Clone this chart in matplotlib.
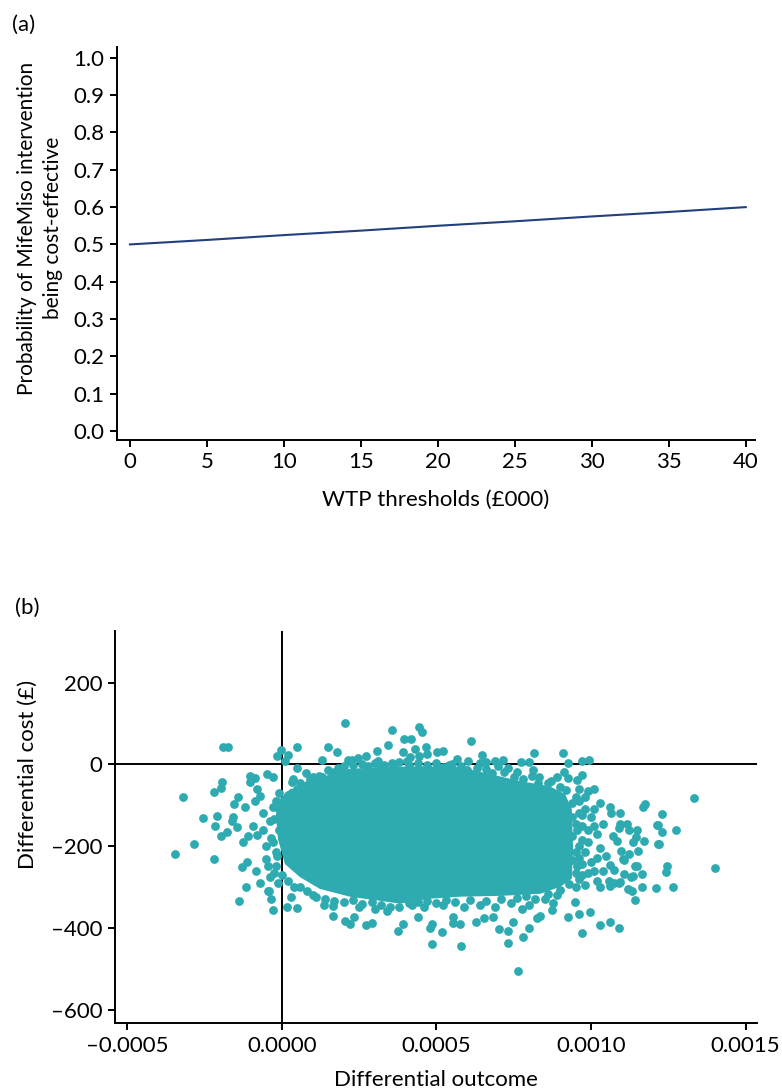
import matplotlib
matplotlib.use("Agg")
import matplotlib.pyplot as plt
from matplotlib.ticker import FuncFormatter

plt.rcParams['font.family'] = ['Lato', 'DejaVu Sans']
plt.rcParams['font.size'] = 16

# (a) cost-effectiveness acceptability curve
wtp_thresholds = [0, 5, 10, 15, 20, 25, 30, 35, 40]
prob_cost_effective = [0.500, 0.512, 0.525, 0.537, 0.550, 0.562, 0.575, 0.587, 0.600]

# (b) cost-effectiveness plane
# the dense centre of the cloud, read off as an outline (differential outcome, differential cost)
core_outline = [
    (-0.0000065, -85), (0.000026, -61), (0.000091, -49), (0.000155, -24),
    (0.000204, -12), (0.000317, -7), (0.000447, -5), (0.000576, -7),
    (0.000673, -24), (0.00077, -41), (0.000867, -54), (0.000916, -73),
    (0.000938, -110), (0.000942, -207), (0.000938, -280), (0.0009, -300),
    (0.000835, -317), (0.000705, -322), (0.000576, -324), (0.000479, -329),
    (0.000382, -341), (0.000317, -334), (0.00022, -324), (0.000123, -305),
    (0.000058, -276), (0.0000097, -244), (-0.0000129, -183), (-0.0000194, -122),
]

# points sitting on the ragged edge of that centre
edge_points = [
    (0.00006, -45), (0.00009, -35), (0.00012, -28), (0.00015, -15), (0.00017, -20),
    (0.0002, -5), (0.00023, -2), (0.00026, 0), (0.0003, 3), (0.00032, -8),
    (0.00036, -4), (0.00038, 5), (0.00041, -2), (0.00044, 4), (0.00047, -3),
    (0.0005, 2), (0.00052, -6), (0.00055, 0), (0.00058, -4), (0.0006, -15),
    (0.00064, 2), (0.00066, -12), (0.00068, -22), (0.0007, -5), (0.00073, -10),
    (0.00076, -18), (0.00078, -35), (0.00081, -28), (0.00083, -45), (0.00087, -40),
    (0.0009, -55), (0.00092, -62),
    (-0.00002, -90), (-0.00001, -110), (-0.000025, -135), (-0.00001, -160),
    (-0.00003, -190), (-0.000015, -225), (-0.00002, -250), (0.0, -270),
    (0.00002, -285), (0.00004, -300), (0.0, -95), (-0.00001, -70),
    (0.00008, -310), (0.00011, -325), (0.00014, -330), (0.00017, -335), (0.0002, -338),
    (0.00023, -332), (0.00026, -342), (0.00029, -338), (0.00032, -345), (0.00035, -350),
    (0.00038, -348), (0.00041, -340), (0.00044, -338), (0.00047, -335), (0.0005, -340),
    (0.00053, -332), (0.00056, -336), (0.00061, -333), (0.00066, -335), (0.00071, -330),
    (0.00076, -328), (0.00079, -322), (0.00082, -330), (0.00086, -318), (0.0009, -308),
    (0.00093, -292),
    (0.00095, -80), (0.00096, -120), (0.000955, -160), (0.00097, -185),
    (0.000955, -250), (0.00096, -280), (0.00094, -95),
    (0.00094, -130), (0.00095, -145), (0.00094, -175), (0.00096, -200),
    (0.00095, -215), (0.00094, -235), (0.00097, -245), (0.00095, -265),
    (0.00098, -295), (0.00099, -265), (0.00099, -160), (0.00101, -150),
    (0.00101, -110), (0.00097, -125), (0.00098, -80), (0.00102, -230),
    (0.00101, -260), (0.00103, -300), (0.00096, -60),
]

# the scattered points around it
left_points = [
    (-0.000346, -220), (-0.00032, -80), (-0.000285, -195), (-0.000256, -132),
    (-0.00022, -232), (-0.00022, -68), (-0.000217, -151), (-0.00021, -127),
    (-0.000197, -176), (-0.000197, -59), (-0.000194, -44), (-0.000191, 41),
    (-0.000175, 42), (-0.000178, -166), (-0.000162, -139), (-0.000159, -129),
    (-0.000155, -98), (-0.000146, -154), (-0.000142, -80), (-0.000139, -334),
    (-0.000129, -251), (-0.000126, -190), (-0.00012, -105), (-0.000117, -300),
    (-0.000113, -239), (-0.00011, -176), (-0.000104, -29), (-0.000104, -44),
    (-0.000094, -151), (-0.000087, -34), (-0.000087, -90), (-0.000084, -261),
    (-0.000081, -61), (-0.000081, -173), (-0.000071, -78), (-0.000071, -290),
    (-0.000052, -232), (-0.000049, -24), (-0.000045, -249), (-0.000045, -310),
    (-0.00003, -32), (-0.000029, -356), (-0.000016, 20), (-0.000013, -290),
    (-0.000003, 34), (0.00001, 7), (0.000016, -349), (0.000019, 22),
    (0.000032, -44), (0.000036, -37), (0.000049, 41), (0.000049, -10),
    (0.000049, -351), (0.000078, -22), (-0.00006, -120), (-0.00004, -140),
    (-0.00003, -105), (-0.00005, -200), (-0.000035, -180), (-0.00002, -215),
    (-0.00006, -160), (-0.000025, -265), (-0.00004, -275), (-0.000042, -310),
    (-0.000036, -329), (0.00005, -60), (0.00008, -50), (0.00002, -75),
    (0.00011, -40), (0.00013, -30),
]
top_points = [
    (0.000149, 41), (0.000178, 29), (0.00013, 10), (0.000204, 102),
    (0.000214, 10), (0.000246, 15), (0.000272, 20), (0.000227, 10),
    (0.000307, 32), (0.000311, 7), (0.000343, 46), (0.000356, 83),
    (0.000356, 2), (0.000392, 29), (0.000404, 7), (0.000395, 61),
    (0.000414, 17), (0.000417, 61), (0.00043, 37), (0.000443, 90),
    (0.000443, 20), (0.000453, 80), (0.000466, 41), (0.00047, 24),
    (0.000502, 29), (0.000521, 32), (0.000566, 12), (0.000602, 7),
    (0.00066, 5), (0.000689, 7), (0.000715, 10), (0.000612, 56),
    (0.000647, 22), (0.000773, 5), (0.000799, 5), (0.000812, -15),
    (0.000815, 27), (0.000831, -32), (0.000909, 27), (0.000913, -20),
    (0.000925, 2), (0.000925, -34), (0.000955, -39), (0.000971, 7),
    (0.000971, -27), (0.000993, 10), (0.00028, -5), (0.00033, -3),
    (0.00054, -2), (0.00063, -10), (0.00072, -20), (0.00075, -30),
    (0.00086, -45), (0.00089, -30), (0.00018, -10), (0.0001, -30),
]
right_points = [
    (0.00099, -66), (0.00101, -61), (0.001029, -95), (0.001061, -105),
    (0.001065, -120), (0.001094, -120), (0.001168, -105), (0.001175, -98),
    (0.00123, -122), (0.001333, -83), (0.001094, -146), (0.001116, -146),
    (0.001123, -161), (0.001149, -161), (0.001146, -178), (0.001217, -149),
    (0.00123, -166), (0.001275, -161), (0.00122, -195), (0.001071, -176),
    (0.001084, -188), (0.001097, -212), (0.001123, -220), (0.001152, -212),
    (0.001172, -188), (0.001136, -190), (0.001107, -234), (0.001149, -249),
    (0.001165, -268), (0.00113, -276), (0.001107, -268), (0.001074, -259),
    (0.001061, -246), (0.001039, -261), (0.001246, -249), (0.001243, -263),
    (0.001401, -254), (0.001058, -285), (0.001074, -290), (0.00109, -290),
    (0.00112, -305), (0.001133, -310), (0.001165, -300), (0.001265, -300),
    (0.00121, -302), (0.001142, -332), (0.00109, -156), (0.001103, -232),
    (0.001142, -249), (0.001136, -273), (0.001094, -288), (0.001061, -298),
    (0.001213, -149), (0.001217, -195), (0.00096, -90), (0.00098, -110),
    (0.001, -130), (0.00097, -150), (0.00102, -170), (0.00099, -190),
    (0.00103, -205), (0.00096, -230), (0.001, -240), (0.00097, -270),
    (0.00102, -285), (0.00095, -300), (0.00104, -145), (0.00105, -225),
    (0.00098, -215),
]
bottom_points = [
    (0.000136, -344), (0.000165, -346), (0.000165, -371), (0.000204, -383),
    (0.00022, -390), (0.000233, -373), (0.000272, -393), (0.000291, -388),
    (0.000375, -407), (0.000392, -390), (0.000485, -439), (0.000518, -410),
    (0.000579, -444), (0.000702, -402), (0.000731, -407), (0.000731, -437),
    (0.000748, -385), (0.000764, -507), (0.000777, -354), (0.00078, -422),
    (0.000799, -400), (0.000971, -412), (0.001029, -393), (0.001061, -385),
    (0.00109, -400), (0.000925, -373), (0.000961, -366), (0.000997, -361),
    (0.000479, -400), (0.000485, -390), (0.000553, -373), (0.000553, -388),
    (0.000576, -390), (0.000628, -385), (0.000654, -376), (0.000683, -373),
    (0.000825, -376), (0.000835, -371), (0.000874, -356), (0.000877, -339),
    (0.000948, -337), (0.00044, -373), (0.00042, -345), (0.00046, -350),
    (0.00052, -345), (0.00059, -350), (0.00064, -345), (0.00069, -350),
    (0.00074, -340), (0.0008, -345), (0.00085, -330), (0.00089, -320),
    (0.0003, -355), (0.00034, -360), (0.00025, -350), (0.0001, -320),
    (0.00006, -300), (0.00003, -325),
]

line_color = '#233f7c'
dot_color = '#2eaab1'


def style_axes(ax):
    for side in ['top', 'right']:
        ax.spines[side].set_visible(False)
    for side in ['left', 'bottom']:
        ax.spines[side].set_linewidth(1.4)
    ax.tick_params(width=1.4, length=5, labelsize=16, pad=4)


def dash_fmt(decimals):
    return FuncFormatter(lambda v, pos: f'{v:.{decimals}f}'.replace('-', '\u2013'))


fig = plt.figure(figsize=(7.82, 10.9), dpi=100)

# ---- panel (a)
ax1 = fig.add_axes([117 / 782, 1 - 440 / 1090, 638 / 782, 393 / 1090])
ax1.plot(wtp_thresholds, prob_cost_effective, color=line_color, lw=1.5)
ax1.set_xlim(-0.84, 40.6)
ax1.set_ylim(-0.024, 1.029)
ax1.set_xticks(wtp_thresholds)
ax1.set_yticks([i / 10 for i in range(11)])
ax1.yaxis.set_major_formatter(dash_fmt(1))
style_axes(ax1)
ax1.set_xlabel('WTP thresholds (£000)', fontsize=16, va='center')
ax1.xaxis.set_label_coords(0.5, -60 / 393)
ax1.set_ylabel('Probability of MifeMiso intervention\nbeing cost-effective',
               fontsize=15, va='center', linespacing=1.35)
ax1.yaxis.set_label_coords(-77 / 638, 0.539)
fig.text(12 / 782, 1 - 25 / 1090, '(a)', fontsize=16, va='center')

# ---- panel (b)
ax2 = fig.add_axes([115 / 782, 1 - 1023 / 1090, 642 / 782, 392 / 1090])
ax2.axhline(0, color='black', lw=1.4, zorder=2)
ax2.axvline(0, color='black', lw=1.4, zorder=2)
core_x = [p[0] for p in core_outline]
core_y = [p[1] for p in core_outline]
ax2.fill(core_x, core_y, color=dot_color, lw=0, zorder=3)
for group in [edge_points, left_points, top_points, right_points, bottom_points]:
    ax2.scatter([p[0] for p in group], [p[1] for p in group],
                s=40, color=dot_color, linewidths=0, zorder=3)
ax2.set_xlim(-0.00054, 0.001537)
ax2.set_ylim(-633, 326)
ax2.set_xticks([-0.0005, 0.0, 0.0005, 0.0010, 0.0015])
ax2.xaxis.set_major_formatter(dash_fmt(4))
ax2.set_yticks([200, 0, -200, -400, -600])
ax2.yaxis.set_major_formatter(dash_fmt(0))
style_axes(ax2)
ax2.set_xlabel('Differential outcome', fontsize=16, va='center')
ax2.xaxis.set_label_coords(0.5, -57 / 392)
ax2.set_ylabel('Differential cost (£)', fontsize=16, va='center')
ax2.yaxis.set_label_coords(-87 / 642, 0.635)
fig.text(15 / 782, 1 - 608 / 1090, '(b)', fontsize=16, va='center')

fig.savefig('out.png', dpi=100)
